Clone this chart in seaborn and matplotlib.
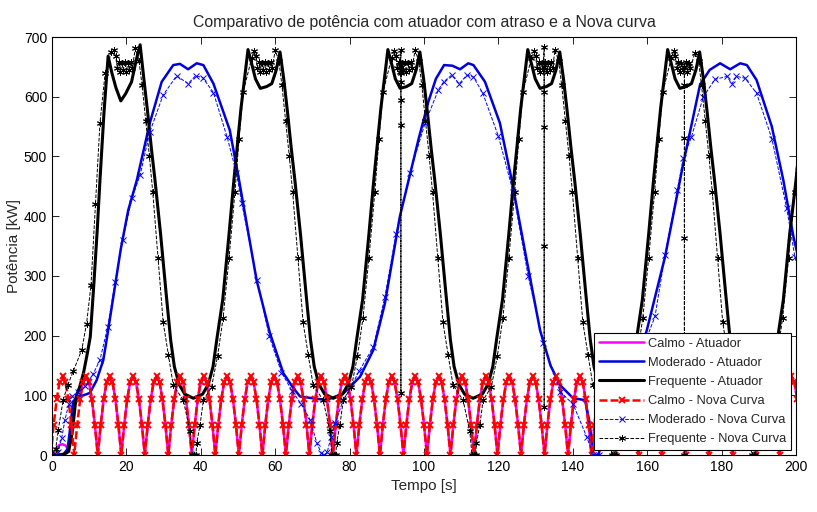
import numpy as np
import seaborn as sns
import matplotlib
matplotlib.use("Agg")
import matplotlib.pyplot as plt

# potencia [kW] x tempo [s]

# Calmo: amostras a cada 0.79 s a partir de -0.32 s
calmo_inicio = -0.32
calmo_passo = 0.79
calmo_nova = [
    0, 51, 93, 122, 132, 122, 93, 51, 0, 51, 93, 122, 132, 122, 93, 51,
    0, 51, 93, 122, 132, 122, 93, 51, 0, 51, 93, 122, 132, 122, 93, 51,
    0, 51, 93, 122, 132, 122, 93, 51, 0, 51, 93, 122, 132, 122, 93, 51,
    0, 51, 93, 122, 132, 122, 93, 51, 0, 51, 93, 122, 132, 122, 93, 51,
    0, 51, 93, 122, 132, 122, 93, 51, 0, 51, 93, 122, 132, 122, 93, 51,
    0, 51, 93, 122, 132, 122, 93, 51, 0, 51, 93, 122, 132, 122, 93, 51,
    0, 51, 93, 122, 132, 122, 93, 51, 0, 51, 93, 122, 132, 122, 93, 51,
    0, 51, 93, 122, 132, 122, 93, 51, 0, 51, 93, 122, 132, 122, 93, 51,
    0, 51, 93, 122, 132, 122, 93, 51, 0, 51, 93, 122, 132, 122, 93, 51,
    0, 51, 93, 122, 132, 122, 93, 51, 0, 51, 93, 122, 132, 122, 93, 51,
    0, 51, 93, 122, 132, 122, 93, 51, 0, 51, 93, 122, 132, 122, 93, 51,
    0, 51, 93, 122, 132, 122, 93, 51, 0, 51, 93, 122, 132, 122, 93, 51,
    0, 51, 93, 122, 132, 122, 93, 51, 0, 51, 93, 122, 132, 122, 93, 51,
    0, 51, 93, 122, 132, 122, 93, 51, 0, 51, 93, 122, 132, 122, 93, 51,
    0, 51, 93, 122, 132, 122, 93, 51, 0, 51, 93, 122, 132, 122, 93, 51,
    0, 51, 93, 122, 132, 122, 93, 51, 0, 51, 93, 122, 132, 122, 93, 51,
    0]
# atuador so difere no arranque
calmo_atuador_inicio = [0, 4, 12, 17, 18, 16, 10, 30, 85, 95, 100, 122, 132]

mod_atuador = [
    (0, 0), (2, 0), (3.2, 2), (4.2, 10), (5.0, 50), (5.7, 90), (7.0, 98), (8.5, 100),
    (10.2, 104), (12.0, 125), (13.8, 159), (14.7, 193), (16.5, 265), (18.5, 345),
    (20.5, 410), (22.8, 460), (26.3, 556), (29.5, 625), (32.6, 653), (34.4, 655),
    (36.6, 646), (38.9, 656), (40.7, 653), (43.4, 622), (47.8, 544), (50.3, 460),
    (55.0, 293), (58.6, 204), (62.2, 137), (64.9, 112), (66.7, 98), (70.2, 95),
    (73.8, 92), (78.3, 103), (82.8, 131), (86.4, 176), (89.5, 254), (93.5, 399),
    (98.5, 528), (101.2, 592), (103.2, 630), (105.4, 653), (107.6, 652), (109.7, 646),
    (111.9, 656), (113.3, 653), (116.4, 625), (120.4, 556), (123.6, 460), (127.5, 330),
    (131.2, 209), (134.0, 150), (136.6, 117), (140.1, 95), (143.3, 92), (144.5, 55),
    (145.5, 0), (147.0, 0), (148.0, 55), (149.5, 90), (153.0, 100), (156.0, 130),
    (158.5, 180), (159.9, 209), (164.8, 332), (169.7, 488), (174.2, 620), (176.8, 645),
    (179.6, 656), (182.3, 646), (185.0, 656), (186.8, 653), (189.4, 628), (193.5, 550),
    (196.6, 460), (199.3, 366), (201.0, 320)]

mod_nova = [
    (0, 0), (1.5, 5), (2.6, 28), (3.5, 59), (4.5, 85), (5.5, 98), (7.0, 105), (9.0, 115),
    (11.0, 135), (12.9, 159), (15.0, 215), (17.0, 290), (19.0, 360), (21.5, 430),
    (23.7, 469), (26.3, 541), (29.9, 603), (33.5, 635), (36.6, 622), (38.6, 635),
    (40.5, 632), (43.4, 607), (47.1, 532), (49.6, 472), (51.0, 422), (55.2, 293),
    (58.4, 199), (61.7, 138), (64.5, 108), (67.0, 85), (69.4, 59), (71.2, 20), (72.4, 3),
    (73.2, 0), (74.0, 5), (75.0, 30), (76.1, 53), (78.3, 92), (80.5, 115), (82.5, 140),
    (86.4, 181), (89.5, 265), (92.5, 370), (96.2, 472), (100.3, 556), (103.9, 612),
    (105.3, 625), (107.4, 636), (109.5, 622), (111.5, 636), (113.3, 633), (115.8, 606),
    (120.0, 534), (124.0, 440), (128.0, 300), (132.1, 187), (136.6, 106), (140.1, 85),
    (143.7, 31), (145.5, 0), (147.0, 0), (148.0, 15), (150.0, 60), (153.0, 100),
    (157.0, 150), (162.1, 232), (164.8, 335), (168.1, 444), (169.7, 497), (171.9, 533),
    (175.1, 600), (178.2, 629), (181.4, 634), (182.8, 622), (184.0, 634), (186.3, 631),
    (189.4, 606), (193.5, 530), (197.5, 413), (199.7, 332), (201.0, 300)]

freq_atuador = [
    (0, 0), (2, 0), (3.5, 2), (4.5, 6), (5.5, 40), (6.5, 98), (7.5, 115), (8.5, 138),
    (9.5, 170), (10.3, 198), (11.3, 290), (12.2, 380), (12.9, 460), (14.0, 575),
    (15.1, 668), (16.1, 640), (17.2, 615), (18.5, 593), (19.8, 605), (21.4, 625),
    (22.6, 660), (23.7, 687),
    (24.7, 630), (25.7, 575), (26.7, 515), (27.7, 460), (29.2, 370), (30.7, 270),
    (31.9, 193), (32.9, 148), (34.2, 118), (35.7, 102), (38.0, 95),
    (40.5, 102), (42.0, 118), (43.3, 148), (44.3, 193), (45.9, 260), (47.6, 370),
    (48.9, 460), (50.8, 580), (52.7, 679),
    (53.7, 655), (54.7, 630), (56.0, 614), (57.7, 617), (59.1, 622), (60.3, 645), (61.3, 675),
    (62.3, 630), (63.3, 575), (64.3, 515), (65.3, 460), (66.8, 370), (68.3, 270),
    (69.5, 193), (70.5, 148), (71.8, 118), (73.3, 102), (75.6, 95),
    (78.1, 102), (79.6, 118), (80.9, 148), (81.9, 193), (83.5, 260), (85.2, 370),
    (86.5, 460), (88.4, 580), (90.3, 679),
    (91.3, 655), (92.3, 630), (93.6, 614), (95.3, 617), (96.7, 622), (97.9, 645), (98.9, 675),
    (99.9, 630), (100.9, 575), (101.9, 515), (102.9, 460), (104.4, 370), (105.9, 270),
    (107.1, 193), (108.1, 148), (109.4, 118), (110.9, 102), (113.2, 95),
    (115.7, 102), (117.2, 118), (118.5, 148), (119.5, 193), (121.1, 260), (122.8, 370),
    (124.1, 460), (126.0, 580), (127.9, 679),
    (128.9, 655), (129.9, 630), (131.2, 614), (132.9, 617), (134.3, 622), (135.5, 645),
    (136.5, 675),
    (137.5, 630), (138.5, 575), (139.5, 515), (140.5, 460), (142.0, 370), (143.5, 270),
    (144.7, 193), (145.7, 148), (147.0, 118), (148.5, 102), (150.8, 95),
    (153.3, 102), (154.8, 118), (156.1, 148), (157.1, 193), (158.7, 260), (160.4, 370),
    (161.7, 460), (163.6, 580), (165.5, 679),
    (166.5, 655), (167.5, 630), (168.8, 614), (170.5, 617), (171.9, 622), (173.1, 645),
    (174.1, 675),
    (175.1, 630), (176.1, 575), (177.1, 515), (178.1, 460), (179.6, 370), (181.1, 270),
    (182.3, 193), (183.3, 148), (184.6, 118), (186.1, 102), (188.4, 95),
    (191.2, 102), (192.7, 118), (194.0, 148), (195.0, 193), (196.6, 260), (198.3, 370),
    (200.0, 460), (201.6, 560)]

freq_nova = [
    # ciclo 1
    (0, 0), (1.0, 10), (1.7, 42), (3.0, 92), (4.3, 118), (5.7, 140), (8.0, 176), (9.3, 220),
    (10.5, 285), (11.7, 420), (12.9, 556), (14.3, 640), (16.0, 675), (16.6, 678), (17.1, 668),
    (17.6, 648), (18.0, 658), (18.4, 642), (18.8, 657), (19.2, 644), (19.6, 658), (20.0, 642),
    (20.4, 657), (20.8, 645), (21.2, 658), (21.6, 648), (22.4, 681), (23.4, 660),
    (24.2, 620), (25.2, 560), (26.2, 500), (27.1, 440), (28.5, 330), (29.9, 222), (31.3, 167),
    (32.6, 117), (35.3, 92), (37.1, 40), (37.7, 0), (38.2, 0), (38.7, 0), (38.9, 20), (39.8, 50),
    (40.7, 92), (42.9, 114), (44.5, 165), (46.0, 229), (47.6, 330), (49.2, 441), (50.3, 530),
    (51.4, 608),
    # ciclo 2
    (53.7, 665), (54.3, 676), (54.8, 668), (55.2, 648), (55.6, 658), (56.0, 642), (56.4, 657),
    (56.8, 644), (57.2, 658), (57.6, 642), (58.0, 657), (58.4, 645), (58.8, 658), (59.2, 648),
    (60.0, 678), (61.0, 660), (61.8, 620), (62.8, 560), (63.8, 500), (64.7, 440), (66.1, 330),
    (67.5, 222), (68.9, 167), (70.2, 117), (72.9, 92), (74.7, 40), (75.3, 0), (75.8, 0),
    (76.3, 0), (76.5, 20), (77.4, 50), (78.3, 92), (80.5, 114), (82.1, 165), (83.6, 229),
    (85.2, 330), (86.8, 441), (87.9, 530), (89.0, 608),
    # ciclo 3
    (91.3, 665), (91.9, 676), (92.4, 668), (92.8, 648), (93.2, 658), (93.6, 642), (93.8, 678),
    (93.8, 640), (93.8, 625), (93.8, 595), (93.8, 553), (93.8, 104), (93.8, 650), (94.0, 657),
    (94.4, 644), (94.8, 658), (95.2, 642), (95.6, 657), (96.0, 645), (96.4, 658), (96.8, 648),
    (97.6, 678), (98.6, 660), (99.4, 620), (100.4, 560), (101.4, 500), (102.3, 440),
    (103.7, 330), (105.1, 222), (106.5, 167), (107.8, 117), (110.5, 92), (112.3, 40),
    (112.9, 0), (113.4, 0), (113.9, 0), (114.1, 20), (115.0, 50), (115.9, 92), (118.1, 114),
    (119.7, 165), (121.2, 229), (122.8, 330), (124.4, 441), (125.5, 530), (126.6, 608),
    # ciclo 4
    (128.9, 665), (129.5, 676), (130.0, 668), (130.4, 648), (130.8, 658), (131.2, 642),
    (131.6, 657), (132.0, 644), (132.3, 684), (132.3, 608), (132.3, 550), (132.3, 350),
    (132.3, 80), (132.3, 650), (132.6, 658), (133.0, 642), (133.4, 657), (133.8, 645),
    (134.2, 658), (134.6, 648), (135.2, 678), (136.2, 660), (137.0, 620), (138.0, 560),
    (139.0, 500), (139.9, 440), (141.3, 330), (142.7, 222), (144.1, 167), (145.4, 117),
    (148.1, 92), (149.9, 40), (150.5, 0), (151.0, 0), (151.5, 0), (151.7, 20), (152.6, 50),
    (153.5, 92), (155.7, 114), (157.3, 165), (158.8, 229), (160.4, 330), (162.0, 441),
    (163.1, 530), (164.2, 608),
    # ciclo 5
    (166.5, 665), (167.1, 676), (167.6, 668), (168.0, 648), (168.4, 658), (168.8, 642),
    (169.2, 657), (169.6, 644), (170.0, 650), (170.0, 620), (170.0, 531), (170.0, 363),
    (170.0, 200), (170.0, 0), (170.0, 650), (170.4, 658), (170.8, 642), (171.2, 657),
    (171.6, 648), (172.8, 673), (173.8, 660), (174.6, 620), (175.6, 560), (176.6, 500),
    (177.5, 440), (178.9, 330), (180.3, 222), (181.7, 167), (183.0, 117), (185.7, 92),
    (187.5, 40), (188.1, 0), (188.6, 0), (189.1, 0), (189.3, 20), (190.2, 50), (191.1, 92),
    (193.3, 114), (194.9, 165), (196.4, 229), (198.0, 330), (199.6, 441), (200.7, 530)]

calmo_tempo = calmo_inicio + calmo_passo * np.arange(len(calmo_nova))
calmo_atuador = calmo_atuador_inicio + calmo_nova[len(calmo_atuador_inicio):]

sns.set_style("ticks")
plt.rcParams['font.family'] = ['Liberation Sans', 'DejaVu Sans']
plt.rcParams.update({
    'xtick.direction': 'in', 'ytick.direction': 'in',
    'xtick.top': True, 'ytick.right': True,
    'xtick.color': 'k', 'ytick.color': 'k',
    'xtick.major.size': 5, 'ytick.major.size': 5,
    'xtick.major.width': 0.6, 'ytick.major.width': 0.6,
})

fig = plt.figure(figsize=(8.17, 5.12), dpi=100)
ax = fig.add_axes([0.0636, 0.1113, 0.9107, 0.8164])


def linha(pontos, **kw):
    t, p = zip(*pontos)
    sns.lineplot(x=np.array(t), y=np.array(p), ax=ax, estimator=None, sort=False, **kw)


linha(list(zip(calmo_tempo, calmo_atuador)), color='#ff00ff', linewidth=1.8,
      label='Calmo - Atuador')
linha(mod_atuador, color='#0000dd', linewidth=1.8, label='Moderado - Atuador')
linha(freq_atuador, color='black', linewidth=2.2, label='Frequente - Atuador')
linha(list(zip(calmo_tempo, calmo_nova)), color='#ff0000', linewidth=1.8,
      linestyle=(0, (3.2, 1.2)), marker='x', markersize=4.5, markeredgewidth=1.4,
      markeredgecolor='#ff0000', label='Calmo - Nova Curva')
linha(mod_nova, color='#0000ff', linewidth=0.7, linestyle='--', marker='x',
      markersize=4.5, markeredgewidth=0.7, markeredgecolor='#0000ff',
      label='Moderado - Nova Curva')
linha(freq_nova, color='black', linewidth=0.7, linestyle='--', marker=(6, 2, 0),
      markersize=5, markeredgewidth=0.7, markeredgecolor='black',
      label='Frequente - Nova Curva')

ax.set_xlim(0, 200)
ax.set_ylim(0, 700)
ax.set_xticks(range(0, 201, 20))
ax.set_yticks(range(0, 701, 100))
ax.tick_params(labelsize=10)
for s in ax.spines.values():
    s.set_color('black')
    s.set_linewidth(0.8)

ax.set_title('Comparativo de potência com atuador com atraso e a Nova curva',
             fontsize=11.4, pad=7)
ax.set_xlabel('Tempo [s]', fontsize=11)
ax.set_ylabel('Potência [kW]', fontsize=11, labelpad=2)

leg = ax.legend(loc='lower right', fontsize=9.3, fancybox=False, edgecolor='black',
                framealpha=1, handlelength=3.5, borderaxespad=0.4, labelspacing=0.55,
                borderpad=0.35, handletextpad=0.3)
leg.get_frame().set_linewidth(0.8)

fig.savefig('out.png', dpi=100)
